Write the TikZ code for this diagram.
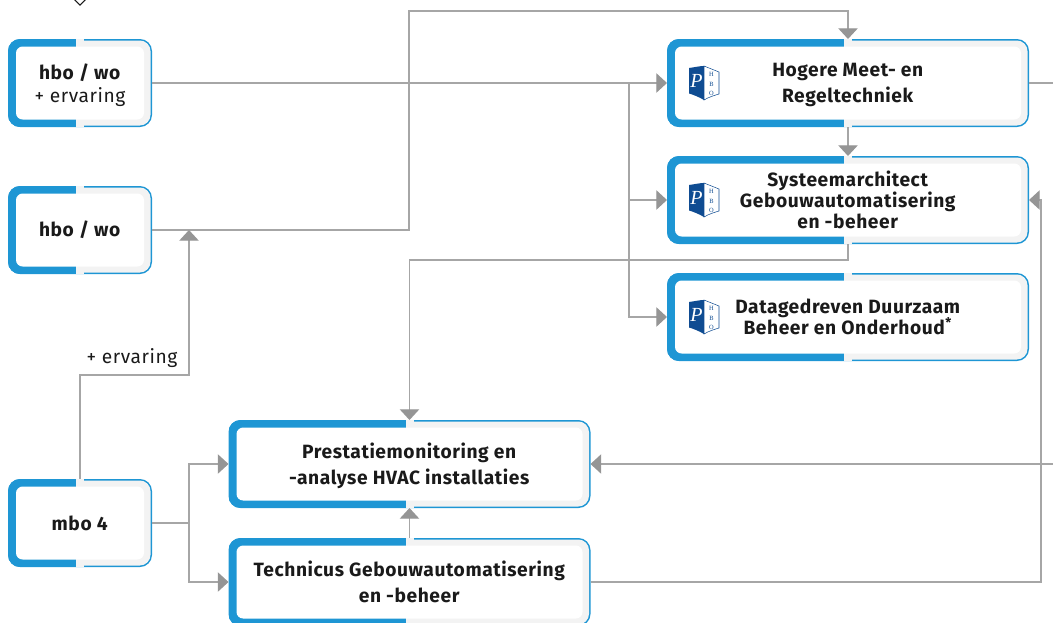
\documentclass[tikz,border=0pt]{standalone}
\usepackage{fontspec}
\setmainfont{Fira Sans}[LetterSpace=3]
\newfontfamily\logofont{Liberation Serif}
\usepackage{xcolor}
\usepackage{tikz}
\usetikzlibrary{arrows.meta,calc,positioning}

\definecolor{PBlue}{HTML}{1E96D4}
\definecolor{PShade}{HTML}{F3F3F3}
\definecolor{PLine}{HTML}{A6A6A6}
\definecolor{PLogo}{HTML}{0F4C92}
\definecolor{PText}{HTML}{1A1A1A}

\newcommand{\nodepth}[1]{\raisebox{0pt}[\height][0pt]{#1}}

\tikzset{
  course/.style={rectangle,fill=PBlue,outer sep=0pt,inner sep=0pt,rounded corners=9pt,align=center,
    text=PText,font=\fontsize{14.4}{16}\selectfont,minimum height=66pt,
    path picture={
      \fill[PShade,rounded corners=8pt] ([shift={(-30,1.5)}]path picture bounding box.north) rectangle ([shift={(-1.5,-1.5)}]path picture bounding box.south east);
      \fill[PBlue,sharp corners] (path picture bounding box.south west) rectangle ([xshift=-3pt]path picture bounding box.north);
      \fill[PShade,sharp corners] ([xshift=-3pt]path picture bounding box.north) rectangle ([xshift=3pt]path picture bounding box.south);
      \fill[white,rounded corners=5pt] ([shift={(8,7.5)}]path picture bounding box.north west) rectangle ([shift={(-8,-7.5)}]path picture bounding box.south east);
    }},
  large/.style={course,minimum width=271.5pt},
  small/.style={course,minimum width=108pt},
  link/.style={draw=PLine,line width=0.95pt},
  tip/.style={link,-{Triangle[width=14.5pt,length=8pt,color=PLine!90!black]}},
  logo/.pic={
    \fill[PLogo] (-15,-15) .. controls (-8,-16) and (-4,-17) .. (0,-17) -- (0,17) .. controls (-5,14) and (-10,12) .. (-15,10.5) -- cycle;
    \draw[PLogo,line width=0.4pt,fill=white] (0,-17) .. controls (5,-15) and (10,-13) .. (15,-11) -- (15,11) .. controls (10,12.5) and (5,14) .. (0,17) -- cycle;
    \node[text=white,font=\logofont\itshape\fontsize{15}{15}\selectfont,inner sep=0pt] (P) at (-7.5,-2) {P};
    \node[text=PLogo,font=\logofont\fontsize{4.8}{4.8}\selectfont,inner sep=0pt] (H) at (7.5,-8.5) {H};
    \node[text=PLogo,font=\logofont\fontsize{4.8}{4.8}\selectfont,inner sep=0pt] (B) at (7.5,1) {B};
    \node[text=PLogo,font=\logofont\fontsize{4.8}{4.8}\selectfont,inner sep=0pt] (O) at (7.5,10.5) {O};
  }
}

\begin{document}
\begin{tikzpicture}[x=0.75pt,y=-0.75pt,node distance=21.75pt]
\useasboundingbox (0,0) rectangle (1053,622);

\node[small] (HW1) at (80,83) {\textbf{hbo / wo}\\[1pt]\nodepth{+ ervaring}};
\node[small] (HW2) at (80,230) {\textbf{hbo / wo}};
\node[small] (MB4) at (80,523) {\textbf{mbo 4}};

\node[large] (HMR) at (848,83) {\textbf{Hogere Meet- en}\\[3.5pt]\nodepth{\textbf{Regeltechniek}}};
\node[large] (SGB) [below=of HMR] {\textbf{Systeemarchitect}\\\textbf{Gebouwautomatisering}\\\textbf{en -beheer}};
\node[large] (DDB) [below=of SGB] {\textbf{Datagedreven Duurzaam}\\\textbf{Beheer en Onderhoud}\textsuperscript{\textbf{*}}};

\node[large] (PAH) at (409.5,464) {\textbf{Prestatiemonitoring en}\\[3.5pt]\nodepth{\textbf{-analyse HVAC installaties}}};
\node[large] (TGB) [below=22.5pt of PAH] {\textbf{Technicus Gebouwautomatisering}\\[3.5pt]\textbf{en -beheer}};

\foreach \crs/\lname in {HMR/L1,SGB/L2,DDB/L3}
  \pic (\lname) at ([xshift=27.75pt]\crs.west) {logo};

\node[draw=PText,fill=white,rotate=45,minimum size=6.5pt,inner sep=0pt,line width=0.7pt] (TOP) at (80,-1) {};

\coordinate (J1) at (629,83);
\coordinate (J2) at (189,523);
\coordinate (E1) at (1053,83);
\coordinate (E2) at (1053,464);

\path[tip] (HW1.east) -- (HMR.west);
\path[tip] (J1) |- (SGB.west);
\path[tip] (J1) |- (DDB.west);
\path[tip] (HW2.east) -- (409,230) |- (848,11) -- (HMR.north);
\path[tip] (HMR.south) -- (SGB.north);
\path[link] (HMR.east) -- (E1);
\path[tip] (SGB.south) -- ++(0,16) -| (PAH.north);
\path[tip] (E2) -- (PAH.east);
\path[tip] (TGB.north) -- (PAH.south);
\path[tip] (TGB.east) -- (1041,582) |- (SGB.east);

\path[tip] (MB4.north) |- (189,375) -- (189,230);
\node[text=PText,font=\fontsize{14.4}{16}\selectfont] (EV) at (132,358) {+ ervaring};

\path[link] (MB4.east) -- (J2);
\path[tip] (J2) |- (PAH.west);
\path[tip] (J2) |- (TGB.west);

\end{tikzpicture}
\end{document}
